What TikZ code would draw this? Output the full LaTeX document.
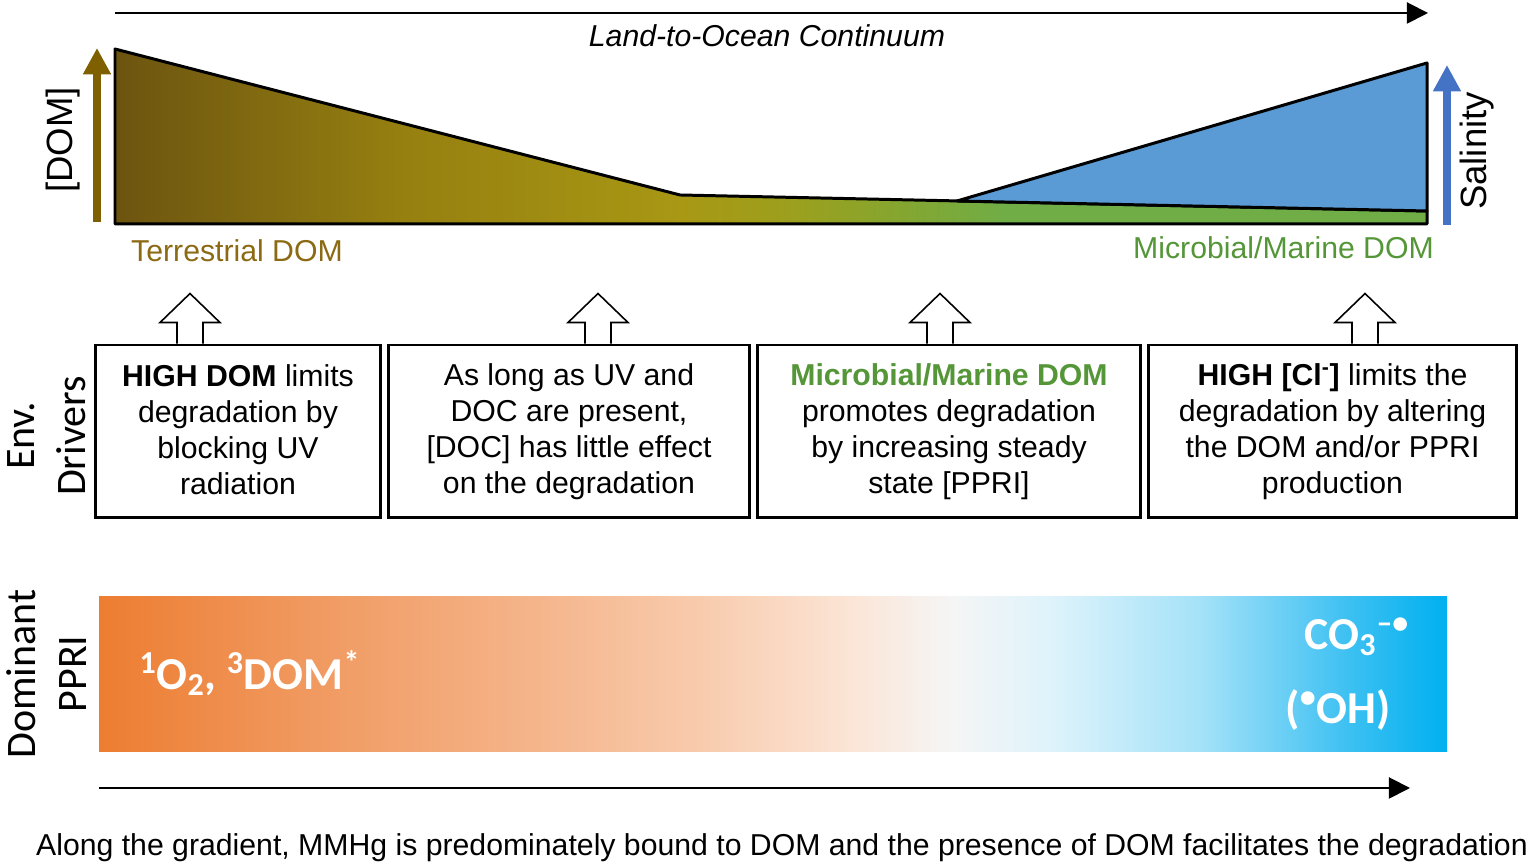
\documentclass[tikz,border=0pt]{standalone}
\usepackage{fontspec}
\setmainfont{Liberation Sans}
\newfontfamily\calibri{Carlito}
\usetikzlibrary{arrows.meta}

% colours of the figure
\definecolor{domBrown}{RGB}{127,96,0}
\definecolor{terrText}{RGB}{140,106,20}
\definecolor{marineText}{RGB}{84,150,56}
\definecolor{saltBlue}{RGB}{68,114,196}
\definecolor{seaBlue}{RGB}{91,155,213}
\definecolor{algaeGreen}{RGB}{112,173,71}

% stops of the DOM wedge
\definecolor{dA}{RGB}{108,84,16}
\definecolor{dB}{RGB}{150,128,16}
\definecolor{dC}{RGB}{168,152,20}
\definecolor{dD}{RGB}{155,160,30}
\definecolor{dE}{RGB}{132,166,48}
\pgfdeclarehorizontalshading{domfill}{100bp}{color(0bp)=(dA); color(25bp)=(dA);
  color(36bp)=(dB); color(46.6bp)=(dC); color(51bp)=(dD); color(55bp)=(dE);
  color(59bp)=(algaeGreen); color(100bp)=(algaeGreen)}

% stops of the PPRI bar
\definecolor{pA}{RGB}{237,125,49}
\definecolor{pB}{RGB}{240,152,94}
\definecolor{pC}{RGB}{244,176,132}
\definecolor{pD}{RGB}{248,203,173}
\definecolor{pE}{RGB}{251,229,214}
\definecolor{pF}{RGB}{245,245,245}
\definecolor{pG}{RGB}{222,243,251}
\definecolor{pH}{RGB}{165,226,248}
\definecolor{pI}{RGB}{60,192,242}
\definecolor{pJ}{RGB}{0,176,240}
\pgfdeclarehorizontalshading{pprifill}{100bp}{color(0bp)=(pA); color(25bp)=(pA);
  color(32.5bp)=(pB); color(39.9bp)=(pC); color(47.3bp)=(pD); color(52.9bp)=(pE);
  color(56.6bp)=(pF); color(60.3bp)=(pG); color(65.8bp)=(pH); color(71.4bp)=(pI);
  color(75bp)=(pJ); color(100bp)=(pJ)}

% even first and last lines in the driver boxes
\newcommand\boxtop{\rule{0pt}{12pt}}
\newcommand\boxend{\rule[-2.5pt]{0pt}{2.5pt}}

\begin{document}
\begin{tikzpicture}[x=0.02cm, y=0.02cm,
    % --- Styles ---
    body text/.style={font=\fontsize{17.2}{20.5}\selectfont, align=center},
    italic note/.style={font=\fontsize{17.2}{20.5}\selectfont\itshape},
    % boxes of the environmental drivers
    driver box/.style={draw, line width=1.7pt, body text, minimum height=3.46cm, inner sep=0pt},
    push arrow/.style={draw, fill=white, line width=0.9pt, line join=miter},
    axis arrow/.style={line width=1.1pt, -{Triangle[length=12pt, width=12pt]}},
    level arrow/.style={line width=4.5pt, -{Triangle[length=15pt, width=15pt]}},
    chart label/.style={font=\fontsize{20.8}{24}\selectfont, rotate=90},
    side label/.style={font=\calibri\fontsize{23.9}{29}\selectfont, rotate=90, align=center},
    radical/.style={font=\calibri\bfseries\fontsize{26}{30}\selectfont, text=white}
]

%================CONFIGURATION================
% \wedge: outline of the DOM / salinity chart
% \shaft, \head: half widths of the block arrows
\def\wedge{1.7pt}
\def\shaft{13}
\def\head{30}
%=============================================

\useasboundingbox (0,0) rectangle (1536,868);

% --- 1. Land-to-ocean chart ---
\coordinate (land) at (115,855);
\coordinate (ocean) at (1428,855);
\draw[axis arrow] (land) -- (ocean);
\node[italic note] (cont) at (767,832) {Land-to-Ocean Continuum};

\shade[shading=domfill, draw, line width=\wedge, line join=round]
    (115,819) -- (680,673) -- (1427,657) -- (1427,644) -- (115,644) -- cycle;
\filldraw[fill=seaBlue, line width=\wedge, line join=round]
    (957,667) -- (1427,805) -- (1427,657) -- cycle;

\coordinate (domlow) at (97,646);
\coordinate (domhigh) at (97,820);
\draw[level arrow, domBrown] (domlow) -- (domhigh);
\node[chart label] (domlab) at (63,728) {[DOM]};

\coordinate (saltlow) at (1447,643);
\coordinate (salthigh) at (1447,803);
\draw[level arrow, saltBlue] (saltlow) -- (salthigh);
\node[chart label] (saltlab) at (1477,717) {Salinity};

\node[body text, text=terrText] (terr) at (237,617) {Terrestrial DOM};
\node[body text, text=marineText, anchor=east] (marine) at (1440,620) {Microbial/Marine DOM};

% --- 2. Environmental drivers ---
\node[side label] (env) at (47,432) {Env.\\Drivers};

\node[driver box, minimum width=5.72cm] (b1) at (238,436.5)
    {\boxtop\textbf{HIGH DOM} limits\\degradation by\\blocking UV\\radiation\boxend};
\node[driver box, minimum width=7.24cm] (b2) at (569,436.5)
    {\boxtop As long as UV and\\DOC are present,\\{}[DOC] has little effect\\on the degradation\boxend};
\node[driver box, minimum width=7.68cm] (b3) at (949,436.5)
    {\boxtop\textcolor{marineText}{\textbf{Microbial/Marine DOM}}\\promotes degradation\\by increasing steady\\state [PPRI]\boxend};
\node[driver box, minimum width=7.38cm] (b4) at (1332.5,436.5)
    {\boxtop\textbf{HIGH [Cl\textsuperscript{-}]} limits the\\degradation by altering\\the DOM and/or PPRI\\production\boxend};

% block arrows from each box up to the chart
\foreach \bx/\dx in {b1/-48, b2/29, b3/-9, b4/32.5} {
    \path (\bx.north) ++(\dx,0) coordinate (\bx up);
    \draw[push arrow] (\bx up) ++(-\shaft,0) -- ++(0,21) -- ++(\shaft-\head,0)
        -- ++(\head,29) -- ++(\head,-29) -- ++(\shaft-\head,0) -- ++(0,-21);
}

% --- 3. Dominant PPRI ---
\node[side label] (pprilab) at (47,194) {Dominant\\PPRI};
\shade[shading=pprifill] (99,271) rectangle (1447,116);

\node[radical] (singlet) at (250,195)
    {\textsuperscript{1}O\textsubscript{2}, \textsuperscript{3}DOM\textsuperscript{*}};
\node[radical] (carb) at (1357,231) {CO\textsubscript{3}\textsuperscript{–•}};
\node[radical] (hydrox) at (1338,158) {(\textsuperscript{•}OH)};

% --- 4. Gradient arrow and note ---
\coordinate (gradstart) at (99,80);
\coordinate (gradend) at (1410,80);
\draw[axis arrow] (gradstart) -- (gradend);
\node[font=\fontsize{17.2}{20.5}\selectfont] (note) at (782,20)
    {Along the gradient, MMHg is predominately bound to DOM and the presence of DOM facilitates the degradation};

\end{tikzpicture}
\end{document}
